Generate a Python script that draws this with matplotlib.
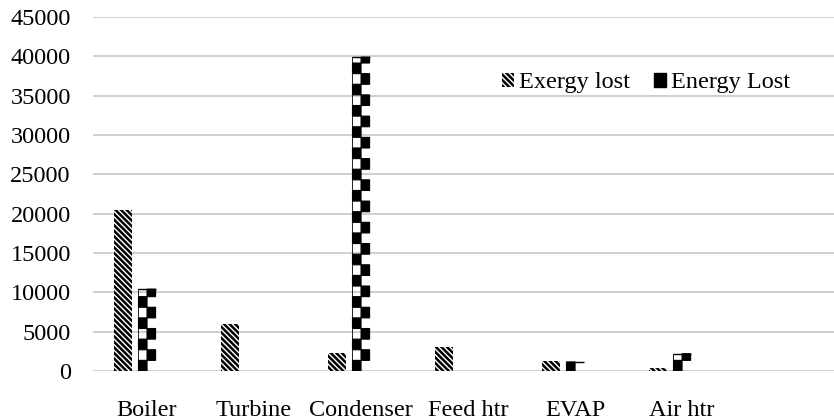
import numpy as np
import matplotlib
matplotlib.use("Agg")
import matplotlib.pyplot as plt
from matplotlib.patches import Patch

plt.rcParams['font.family'] = ['Liberation Serif', 'DejaVu Serif']
plt.rcParams['hatch.linewidth'] = 1.8

# data
categories = ['Boiler', 'Turbine', 'Condenser', 'Feed htr', 'EVAP', 'Air htr', '']
exergy_lost = [20500, 6000, 2250, 3000, 1250, 350, 0]
energy_lost = [10400, 0, 39900, 0, 1150, 2200, 0]
yticks = list(range(0, 45001, 5000))

barWidth = 0.16
offset = 0.225
seg = 1350  # height of one checker square (data units)
exHatch = '\\' * 6

fig = plt.figure(figsize=(8.34, 4.2), dpi=100)
ax = fig.add_axes([0.1115, 0.1167, 0.8885, 0.8428])

x = np.arange(len(categories))

ax.bar(x - offset, exergy_lost, width=barWidth, color='white',
       edgecolor='black', hatch=exHatch, linewidth=0, zorder=3)

# checkered "energy" bars: alternating half-width squares, left one first
for xi, v in zip(x, energy_lost):
    if v <= 0:
        continue
    nSeg = int(np.ceil(v / seg))
    for k in range(nSeg):
        bottom = k * seg
        h = min(seg, v - bottom)
        side = -1 if k % 2 == 0 else 1
        ax.bar(xi + side * barWidth / 4, h, width=barWidth / 2, bottom=bottom,
               color='black', edgecolor='black', linewidth=0.8, zorder=4,
               snap=False)
    # thin line on the left edge and a cap on top
    ax.plot([xi - barWidth / 2, xi - barWidth / 2], [0, v], color='black',
            linewidth=0.6, zorder=4)
    ax.plot([xi - barWidth / 2, xi + barWidth / 2], [v, v], color='black',
            linewidth=1.0, zorder=4, solid_capstyle='butt')

ax.set_xlim(-0.505, 6.42)
ax.set_ylim(0, 45000)
ax.set_yticks(yticks)
ax.set_yticklabels([str(t) for t in yticks])
ax.set_xticks(x)
ax.set_xticklabels(categories)
ax.tick_params(axis='both', length=0, labelsize=17.5)
ax.tick_params(axis='y', pad=16)
ax.tick_params(axis='x', pad=21)

ax.grid(axis='y', color='#cccccc', linewidth=1.3, zorder=0)
ax.set_axisbelow(True)
for s in ax.spines.values():
    s.set_visible(False)

handles = [Patch(facecolor='white', edgecolor='black', hatch=exHatch, linewidth=0),
           Patch(facecolor='black', edgecolor='black')]
ax.legend(handles, ['Exergy lost', 'Energy Lost'], ncol=2, frameon=False,
          loc='center', bbox_to_anchor=(0.746, 0.8136), fontsize=17.5,
          handlelength=0.5, handleheight=0.5, handletextpad=0.2,
          columnspacing=1.0)

fig.savefig('out.png', dpi=100, facecolor='w')
